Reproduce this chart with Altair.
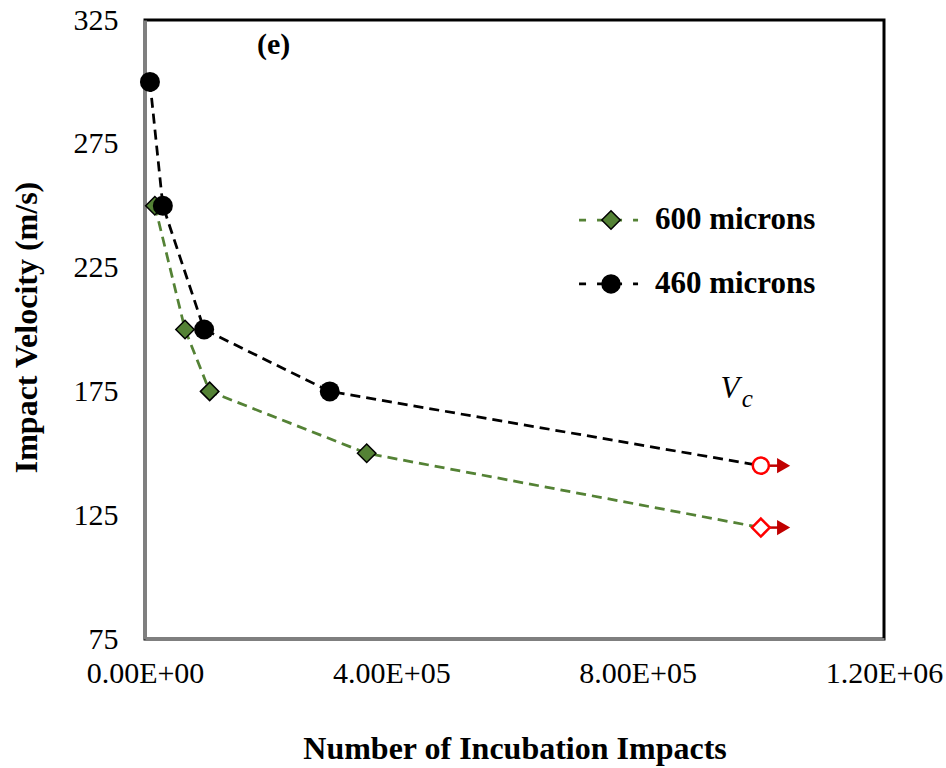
import altair as alt
import pandas as pd

# Incubation impacts vs. impact velocity for two droplet sizes
impacts_600 = [16000, 65000, 105000, 360000, 1000000]
velocity_600 = [250, 200, 175, 150, 120]
impacts_460 = [8000, 29000, 96000, 300000, 1000000]
velocity_460 = [300, 250, 200, 175, 145]
# the last point of each series is the critical velocity V_c
point_kind_600 = ["measured", "measured", "measured", "measured", "critical"]
point_kind_460 = ["measured", "measured", "measured", "measured", "critical"]

series_names = ["600 microns", "460 microns"]
series_colors = ["#548235", "#000000"]
x_ticks = [0, 400000, 800000, 1200000]
y_ticks = [75, 125, 175, 225, 275, 325]

rows = []
for x, v, k in zip(impacts_600, velocity_600, point_kind_600):
    rows.append({"impacts": x, "velocity": v, "series": "600 microns", "kind": k})
for x, v, k in zip(impacts_460, velocity_460, point_kind_460):
    rows.append({"impacts": x, "velocity": v, "series": "460 microns", "kind": k})
df = pd.DataFrame(rows)

SERIF = "Liberation Serif"
ARROW_LEN = 37000
DASH = [10, 6]
LINE_W = 2.75

x_scale = alt.Scale(domain=[0, 1200000], nice=False, zero=False)
y_scale = alt.Scale(domain=[75, 325], nice=False, zero=False)
color_scale = alt.Scale(domain=series_names, range=series_colors)

x_axis = alt.Axis(
    values=x_ticks,
    labelExpr="replace(format(datum.value, '.2e'), 'e+', 'E+0')",
    labelFont=SERIF, labelFontSize=30, labelColor="black", labelPadding=19,
    labelFlush=False, labelOverlap=False,
    ticks=False, grid=False,
    domainColor="#7f7f7f", domainWidth=3,
    title="Number of Incubation Impacts",
    titleFont=SERIF, titleFontSize=32, titleFontWeight="bold", titleColor="black",
    titleBaseline="middle", titleY=109,
)
y_axis = alt.Axis(
    values=y_ticks,
    labelFont=SERIF, labelFontSize=30, labelColor="black", labelPadding=27,
    ticks=False, grid=False,
    domainColor="#7f7f7f", domainWidth=3,
    title="Impact Velocity (m/s)",
    titleFont=SERIF, titleFontSize=32, titleFontWeight="bold", titleColor="black",
    titleBaseline="middle", titleX=-119, titleY=307,
)

X = alt.X("impacts:Q", scale=x_scale, axis=x_axis)
Y = alt.Y("velocity:Q", scale=y_scale, axis=y_axis)

base = alt.Chart(df)

lines = base.mark_line(strokeDash=DASH, strokeWidth=LINE_W).encode(
    x=X, y=Y,
    color=alt.Color("series:N", scale=color_scale, legend=None),
    order="impacts:Q",
)

dots_600 = base.mark_point(
    shape="diamond", filled=True, fill="#548235", stroke="black",
    strokeWidth=1.5, size=340, opacity=1,
).encode(x=X, y=Y).transform_filter(
    "datum.series == '600 microns' && datum.kind == 'measured'"
)

dots_460 = base.mark_circle(color="black", size=400, opacity=1).encode(x=X, y=Y).transform_filter(
    "datum.series == '460 microns' && datum.kind == 'measured'"
)

critical = base.transform_filter("datum.kind == 'critical'").transform_calculate(
    tip=f"datum.impacts + {ARROW_LEN}"
)

arrow_shaft = critical.mark_rule(color="#C00000", strokeWidth=2.5).encode(x=X, x2="tip:Q", y=Y)

arrow_head = critical.mark_point(
    shape="triangle-right", filled=True, color="#C00000", size=230, opacity=1
).encode(x=alt.X("tip:Q", scale=x_scale), y=Y)

crit_600 = critical.transform_filter("datum.series == '600 microns'").mark_point(
    shape="diamond", filled=True, fill="white", stroke="#FF0000",
    strokeWidth=2.5, size=320, opacity=1,
).encode(x=X, y=Y)

crit_460 = critical.transform_filter("datum.series == '460 microns'").mark_point(
    shape="circle", filled=True, fill="white", stroke="#FF0000",
    strokeWidth=2.5, size=260, opacity=1,
).encode(x=X, y=Y)

# legend: dashed key line, series marker and bold label for each series
legend_df = pd.DataFrame({
    "series": series_names,
    "velocity": [244.2, 218.4],
    "x0": [704800, 704800],
    "x1": [800600, 800600],
    "xm": [756700, 756700],
    "xt": [828000, 828000],
})
leg = alt.Chart(legend_df)
leg_line = leg.mark_rule(strokeDash=[7, 11], strokeWidth=LINE_W).encode(
    x=alt.X("x0:Q", scale=x_scale), x2="x1:Q", y=Y,
    color=alt.Color("series:N", scale=color_scale, legend=None),
)
leg_600 = leg.transform_filter("datum.series == '600 microns'").mark_point(
    shape="diamond", filled=True, fill="#548235", stroke="black",
    strokeWidth=1.5, size=340, opacity=1,
).encode(x=alt.X("xm:Q", scale=x_scale), y=Y)
leg_460 = leg.transform_filter("datum.series == '460 microns'").mark_circle(
    color="black", size=380, opacity=1
).encode(x=alt.X("xm:Q", scale=x_scale), y=Y)
leg_text = leg.mark_text(
    font=SERIF, fontSize=31, fontWeight="bold", color="black", align="left", baseline="middle"
).encode(x=alt.X("xt:Q", scale=x_scale), y=Y, text="series:N")

# panel tag and V_c annotation
notes_df = pd.DataFrame([
    {"impacts": 209000, "velocity": 314.9, "txt": "(e)", "kind": "tag"},
    {"impacts": 950000, "velocity": 175.8, "txt": "V", "kind": "v"},
    {"impacts": 978000, "velocity": 171.9, "txt": "c", "kind": "sub"},
])
notes = alt.Chart(notes_df)
tag = notes.transform_filter("datum.kind == 'tag'").mark_text(
    font=SERIF, fontSize=30, fontWeight="bold", color="black", baseline="middle", align="center"
).encode(x=X, y=Y, text="txt:N")
vc_main = notes.transform_filter("datum.kind == 'v'").mark_text(
    font=SERIF, fontSize=31, fontStyle="italic", color="black", baseline="middle", align="center"
).encode(x=X, y=Y, text="txt:N")
vc_sub = notes.transform_filter("datum.kind == 'sub'").mark_text(
    font=SERIF, fontSize=25, fontStyle="italic", color="black", baseline="middle", align="center"
).encode(x=X, y=Y, text="txt:N")

chart = alt.layer(
    lines, arrow_shaft, arrow_head, dots_600, dots_460, crit_600, crit_460,
    leg_line, leg_600, leg_460, leg_text, tag, vc_main, vc_sub,
).properties(
    width=739, height=619,
    autosize=alt.AutoSizeParams(type="none"),
    padding={"left": 145, "top": 20, "right": 62, "bottom": 129},
    background="white",
).configure_view(stroke="black", strokeWidth=3)

chart.save("out.html", embed_options={"renderer": "svg", "actions": False})
